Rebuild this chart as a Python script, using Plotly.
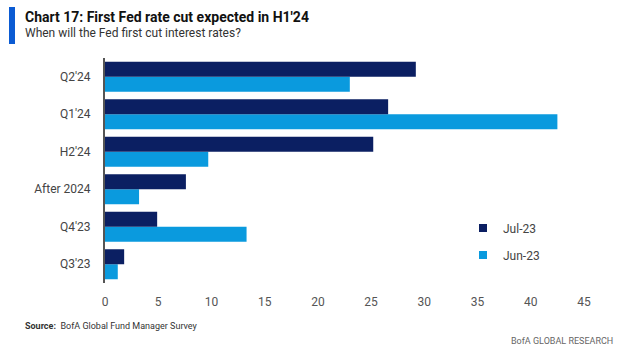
import plotly.graph_objects as go

categories = ["Q3'23", "Q4'23", "After 2024", "H2'24", "Q1'24", "Q2'24"]
jul_23 = [1.8, 4.9, 7.6, 25.2, 26.6, 29.2]
jun_23 = [1.2, 13.3, 3.2, 9.7, 42.5, 23.0]
x_ticks = [0, 5, 10, 15, 20, 25, 30, 35, 40, 45]

FONT = "Roboto, Arial, sans-serif"
DARK = "#0b1f62"
LIGHT = "#0a9ade"

L, T, W, H = 105, 58, 479, 225


def px(p):
    return (p - L) / W


def py(p):
    return (T + H - p) / H


fig = go.Figure()
fig.add_trace(go.Bar(y=categories, x=jun_23, name="Jun-23", orientation="h",
                     marker=dict(color=LIGHT, line=dict(width=0)), showlegend=False))
fig.add_trace(go.Bar(y=categories, x=jul_23, name="Jul-23", orientation="h",
                     marker=dict(color=DARK, line=dict(width=0)), showlegend=False))
# legend entries with small square symbols
fig.add_trace(go.Scatter(x=[None], y=[None], mode="markers", name="Jul-23",
                         legendgroup="jul",
                         marker=dict(symbol="square", size=8, color=DARK)))
fig.add_trace(go.Scatter(x=[None], y=[None], mode="markers", name="Jun-23",
                         legendgroup="jun",
                         marker=dict(symbol="square", size=8, color=LIGHT)))

fig.update_layout(
    width=619, height=356,
    margin=dict(l=L, r=619 - L - W, t=T, b=356 - T - H, autoexpand=False),
    paper_bgcolor="white", plot_bgcolor="white",
    barmode="group", bargap=0.2, bargroupgap=0,
    font=dict(family=FONT, size=12, color="#444444"),
    showlegend=True,
    legend=dict(x=px(463), y=py(241.5), xanchor="left", yanchor="middle",
                traceorder="grouped", bgcolor="rgba(0,0,0,0)",
                font=dict(size=12, color="#444444"), itemwidth=30,
                tracegroupgap=8),
    xaxis=dict(range=[0, 45], tickvals=x_ticks, showgrid=False, zeroline=False,
               showline=False, ticks="", ticklabelstandoff=10, automargin=False,
               tickfont=dict(size=12, color="#555555")),
    yaxis=dict(showgrid=False, zeroline=False, showline=True, linecolor="#555555",
               linewidth=2, ticks="", ticklabelstandoff=10, automargin=False,
               tickfont=dict(size=12, color="#444444")),
    shapes=[dict(type="rect", xref="paper", yref="paper",
                 x0=px(9), x1=px(15), y0=py(7), y1=py(44),
                 fillcolor="#0b5bd3", line=dict(width=0))],
    annotations=[
        dict(text="<b>Chart 17: First Fed rate cut expected in H1'24</b>",
             xref="paper", yref="paper", x=px(23), y=py(17),
             xanchor="left", yanchor="middle", showarrow=False,
             font=dict(family=FONT, size=14, color="#111111")),
        dict(text="When will the Fed first cut interest rates?",
             xref="paper", yref="paper", x=px(23), y=py(33),
             xanchor="left", yanchor="middle", showarrow=False,
             font=dict(family=FONT, size=12, color="#333333")),
        dict(text="<b>Source:</b>  BofA Global Fund Manager Survey",
             xref="paper", yref="paper", x=px(23), y=py(326),
             xanchor="left", yanchor="middle", showarrow=False,
             font=dict(family=FONT, size=9, color="#333333")),
        dict(text="BofA GLOBAL RESEARCH",
             xref="paper", yref="paper", x=px(615), y=py(341),
             xanchor="right", yanchor="middle", showarrow=False,
             font=dict(family=FONT, size=9, color="#666666")),
    ],
)

fig.write_html("out.html", config={"displayModeBar": False},
               post_script="document.body.style.margin='0';")
